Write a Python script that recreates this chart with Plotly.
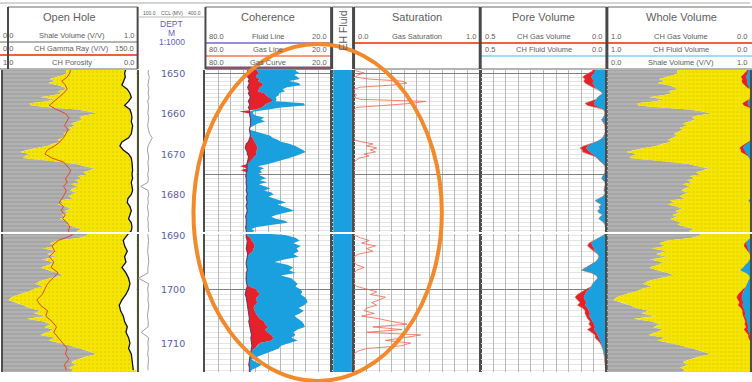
import numpy as np
import plotly.graph_objects as go

W, H = 752, 382


def px(x):
    return x / W


def py(y):
    return 1 - y / H


# ---------------------------------------------------------------- data
DEPTH = [round(1649.0 + 0.5 * i, 1) for i in range(134)]      # 0.5 m samples
DEPTH_1M = list(range(1649, 1716))                               # 1 m samples
TICK_DEPTHS = [1650, 1660, 1670, 1680, 1690, 1700, 1710]

# shale volume (V/V), 0.5 m
VSH = [0.475, 0.475, 0.475, 0.45, 0.40, 0.35, 0.39, 0.34, 0.41, 0.46,
       0.475, 0.41, 0.44, 0.375, 0.28, 0.39, 0.33, 0.20, 0.21, 0.35,
       0.55, 0.65, 0.70, 0.61, 0.57, 0.60, 0.56, 0.51, 0.54, 0.49,
       0.51, 0.475, 0.45, 0.475, 0.44, 0.41, 0.43, 0.375, 0.33, 0.25,
       0.18, 0.13, 0.20, 0.165, 0.15, 0.30, 0.45, 0.55, 0.61, 0.69,
       0.65, 0.60, 0.625, 0.56, 0.59, 0.54, 0.575, 0.51, 0.56, 0.525,
       0.50, 0.55, 0.51, 0.49, 0.525, 0.425, 0.45, 0.41, 0.475, 0.51,
       0.46, 0.49, 0.44, 0.475, 0.425, 0.46, 0.50, 0.475, 0.54, 0.59,
       0.55, 0.60,
       0.64, 0.575, 0.41, 0.35, 0.39, 0.30, 0.41, 0.33,
       0.40, 0.29, 0.375, 0.35, 0.28, 0.34, 0.41, 0.45, 0.35, 0.28,
       0.24, 0.30, 0.23, 0.19, 0.115, 0.065, 0.04, 0.10, 0.15, 0.20,
       0.28, 0.23, 0.33, 0.18, 0.30, 0.36, 0.31, 0.375, 0.33, 0.28,
       0.39, 0.34, 0.425, 0.51, 0.575, 0.64, 0.70, 0.625, 0.56, 0.51,
       0.55, 0.49, 0.525, 0.50]

# CH gamma ray, 1 m
GR = [76, 75, 72, 66, 70, 72, 68, 63, 58, 52,
      60, 70, 74, 71, 69, 73, 70, 68, 64, 58,
      50, 47, 55, 68, 72, 76, 74, 70, 72, 68,
      71, 69, 66, 63, 68, 65, 70, 67, 72, 75,
      73, 78, 62, 55, 58, 52, 57, 54, 62, 56,
      50, 47, 44, 38, 42, 50, 48, 55, 60, 57,
      62, 66, 72, 70, 74, 69, 71]

# CH porosity, 1 m
PHI = [0.08, 0.09, 0.085, 0.10, 0.11, 0.07, 0.05, 0.04, 0.06, 0.09,
       0.05, 0.04, 0.035, 0.04, 0.03, 0.035, 0.04, 0.06, 0.11, 0.125,
       0.10, 0.06, 0.04, 0.035, 0.03, 0.03, 0.035, 0.03, 0.04, 0.035,
       0.03, 0.04, 0.065, 0.07, 0.05, 0.04, 0.05, 0.06, 0.04, 0.035,
       0.04, 0.07, 0.10, 0.09, 0.07, 0.09, 0.08, 0.11, 0.08, 0.06,
       0.05, 0.06, 0.08, 0.11, 0.13, 0.12, 0.10, 0.09, 0.07, 0.08,
       0.06, 0.05, 0.06, 0.04, 0.035, 0.03, 0.025]

# CCL (MV), 1 m
CCL = [152, 150, 155, 151, 149, 153, 150, 154, 148, 152,
       150, 149, 153, 151, 148, 152, 156, 168, 158, 150,
       147, 151, 153, 149, 150, 152, 148, 151, 149, 118,
       150, 153, 149, 151, 147, 150, 152, 148, 151, 150,
       153, 149, 152, 150, 148, 151, 153, 149, 149, 108,
       152, 148, 151, 149, 153, 150, 147, 151, 150, 120,
       152, 149, 151, 148, 152, 150, 149]

# coherence curves (80 .. 20), 0.5 m
COH_CURVE = [60.0, 59.8, 59.5, 60.0, 59.8, 59.0, 59.5, 59.0, 59.3, 59.8,
             59.5, 59.0, 59.5, 59.0, 58.5, 59.0, 59.5, 59.0, 58.8, 59.5,
             59.0, 59.0, 59.0, 58.8, 58.5, 58.5, 58.3, 58.5, 58.5, 58.8,
             59.0, 58.8, 58.5, 58.5, 58.8, 59.0, 59.5, 60.5, 60.8, 61.0,
             60.5, 60.0, 60.0, 59.5, 59.5, 59.8, 60.0, 60.2, 60.0, 60.3,
             60.0, 60.5, 60.5, 60.8, 60.5, 60.5, 60.8, 60.5, 60.3, 60.5,
             60.5, 60.3, 60.0, 60.5, 60.5, 60.3, 60.0, 60.5, 60.5, 60.3,
             60.0, 60.3, 60.5, 60.8, 60.5, 60.5, 60.3, 60.5, 60.8, 60.5,
             60.5, 60.3,
             60.5, 60.5, 60.0, 60.0, 60.3, 60.5, 60.0, 59.8,
             60.0, 60.3, 60.5, 60.5, 60.3, 60.0, 60.5, 60.5, 60.8, 60.5,
             60.3, 60.0, 60.5, 60.8, 61.0, 60.5, 60.3, 60.0, 60.0, 59.8,
             59.5, 59.5, 59.0, 59.0, 59.3, 59.0, 58.8, 58.5, 58.3, 58.0,
             58.3, 58.0, 58.0, 57.8, 58.0, 58.3, 58.5, 58.8, 59.0, 59.0,
             59.3, 59.0, 59.0, 59.0]
COH_GAS = [56.0, 55.1, 54.5, 55.5, 56.0, 54.0, 55.0, 53.0, 52.5, 54.0,
           54.5, 55.0, 52.0, 51.0, 50.0, 48.5, 48.0, 50.5, 52.0, 53.0,
           56.0, 64.0, 59.0, 58.8, 58.5, 58.5, 58.3, 58.5, 58.5, 58.8,
           59.0, 58.8, 58.5, 58.5, 57.5, 57.0, 56.5, 56.0, 55.5, 55.0,
           55.5, 56.0, 55.5, 56.5, 57.0, 58.0, 59.0, 60.2, 63.5, 60.3,
           63.0, 60.5, 60.5, 60.8, 60.5, 60.5, 60.8, 60.5, 60.3, 60.5,
           60.5, 60.3, 60.0, 60.5, 60.5, 60.3, 60.0, 60.5, 60.5, 60.3,
           60.0, 60.3, 60.5, 60.8, 60.5, 60.5, 60.3, 60.5, 60.8, 60.5,
           60.5, 60.3,
           60.5, 58.5, 58.0, 57.0, 56.5, 57.0, 57.5, 59.0,
           60.0, 60.3, 60.5, 60.5, 60.3, 60.0, 60.5, 60.5, 60.8, 60.5,
           60.3, 59.0, 56.0, 55.0, 54.0, 55.5, 56.0, 55.0, 56.5, 57.0,
           56.5, 56.0, 55.0, 54.0, 52.0, 51.5, 50.0, 51.5, 50.5, 48.5,
           47.5, 48.5, 54.0, 55.0, 56.5, 58.3, 58.5, 58.8, 59.0, 59.0,
           59.3, 59.0, 59.0, 59.0]
COH_FLUID = [37.0, 36.8, 35.2, 37.6, 36.0, 35.0, 40.0, 35.5, 34.5, 41.0,
             43.2, 42.0, 44.8, 45.0, 46.5, 46.0, 46.4, 33.0, 32.5, 44.0,
             50.0, 57.0, 57.5, 56.0, 52.0, 53.5, 51.5, 55.0, 57.0, 58.8,
             59.0, 56.0, 52.0, 49.0, 48.0, 45.5, 44.0, 40.0, 37.0, 35.0,
             33.5, 32.1, 34.0, 37.0, 40.0, 44.0, 46.4, 50.0, 55.0, 52.0,
             54.0, 53.0, 55.0, 53.0, 51.0, 54.0, 50.5, 54.5, 51.5, 49.0,
             52.0, 48.5, 47.5, 50.0, 46.5, 44.5, 41.5, 45.5, 43.0, 40.0,
             37.5, 42.0, 46.0, 48.5, 46.5, 42.0, 40.8, 48.0, 55.5, 58.0,
             56.5, 58.5,
             42.0, 37.0, 35.0, 38.0, 34.5, 36.5, 35.5, 38.0,
             35.5, 42.4, 47.0, 41.0, 38.0, 40.0, 37.0, 44.0, 39.0, 37.5,
             36.0, 37.0, 35.0, 33.7, 34.5, 32.5, 31.5, 31.3, 33.0, 35.5,
             33.0, 35.0, 37.5, 36.0, 34.0, 33.0, 32.5, 36.0, 38.0, 37.0,
             39.0, 36.0, 40.0, 44.0, 45.0, 48.0, 51.5, 55.0, 58.0, 56.0,
             53.0, 55.5, 58.0, 58.5]

# EH fluid flag (fluid present over the whole interval)
EH_FLUID = [1] * len(DEPTH)

# gas saturation, 0.5 m
SAT = [0.0, 0.02, 0.08, 0.03, 0.01, 0.12, 0.38, 0.42, 0.30, 0.05,
       0.0, 0.0, 0.0, 0.02, 0.0, 0.05, 0.57, 0.46, 0.20, 0.02,
       0.0, 0.0, 0.0, 0.0, 0.0, 0.0, 0.0, 0.0, 0.0, 0.0,
       0.0, 0.0, 0.0, 0.0, 0.0, 0.0, 0.06, 0.15, 0.10, 0.18,
       0.13, 0.17, 0.08, 0.12, 0.04, 0.02, 0.0, 0.0, 0.0, 0.0,
       0.0, 0.0, 0.0, 0.0, 0.0, 0.0, 0.0, 0.0, 0.0, 0.0,
       0.0, 0.0, 0.0, 0.0, 0.0, 0.0, 0.0, 0.0, 0.0, 0.0,
       0.0, 0.0, 0.0, 0.0, 0.0, 0.0, 0.0, 0.0, 0.0, 0.0,
       0.0, 0.0,
       0.0, 0.05, 0.12, 0.06, 0.17, 0.10, 0.15, 0.04,
       0.0, 0.0, 0.0, 0.02, 0.08, 0.02, 0.0, 0.0, 0.0, 0.0,
       0.0, 0.02, 0.10, 0.18, 0.13, 0.25, 0.20, 0.14, 0.18, 0.10,
       0.08, 0.16, 0.06, 0.20, 0.30, 0.42, 0.15, 0.38, 0.10, 0.53,
       0.40, 0.25, 0.45, 0.38, 0.10, 0.03, 0.0, 0.0, 0.0, 0.0,
       0.0, 0.0, 0.0, 0.0]

# CH fluid / gas volume, 0.5 m
PORE_FLUID = [0.045, 0.045, 0.05, 0.055, 0.06, 0.055, 0.05, 0.055, 0.05, 0.045,
              0.035, 0.025, 0.015, 0.025, 0.035, 0.04, 0.045, 0.05, 0.045, 0.03,
              0.012, 0.008, 0.006, 0.008, 0.012, 0.02, 0.015, 0.008, 0.005, 0.006,
              0.004, 0.005, 0.006, 0.01, 0.015, 0.025, 0.04, 0.06, 0.075, 0.08,
              0.075, 0.065, 0.055, 0.045, 0.035, 0.03, 0.02, 0.012, 0.006, 0.005,
              0.004, 0.006, 0.01, 0.015, 0.02, 0.012, 0.006, 0.005, 0.006, 0.008,
              0.01, 0.006, 0.008, 0.015, 0.03, 0.045, 0.035, 0.02, 0.03, 0.025,
              0.035, 0.03, 0.015, 0.025, 0.03, 0.02, 0.01, 0.006, 0.004, 0.003,
              0.004, 0.005,
              0.01, 0.03, 0.05, 0.06, 0.055, 0.05, 0.045, 0.035,
              0.03, 0.035, 0.045, 0.06, 0.08, 0.10, 0.06, 0.04, 0.035, 0.045,
              0.055, 0.06, 0.07, 0.08, 0.085, 0.09, 0.085, 0.08, 0.085, 0.075,
              0.07, 0.065, 0.07, 0.06, 0.055, 0.05, 0.045, 0.05, 0.04, 0.035,
              0.03, 0.025, 0.02, 0.02, 0.015, 0.012, 0.01, 0.008, 0.006, 0.005,
              0.004, 0.004, 0.003, 0.003]
PORE_GAS = [0.01, 0.01, 0.02, 0.03, 0.035, 0.03, 0.04, 0.03, 0.02, 0.01,
            0.0, 0.0, 0.0, 0.0, 0.0, 0.0, 0.02, 0.035, 0.03, 0.01,
            0.0, 0.0, 0.0, 0.0, 0.0, 0.0, 0.0, 0.0, 0.0, 0.0,
            0.0, 0.0, 0.0, 0.0, 0.0, 0.0, 0.0, 0.005, 0.015, 0.025,
            0.02, 0.03, 0.015, 0.005, 0.0, 0.0, 0.0, 0.0, 0.0, 0.0,
            0.0, 0.0, 0.0, 0.0, 0.0, 0.0, 0.0, 0.0, 0.0, 0.0,
            0.0, 0.0, 0.0, 0.0, 0.0, 0.0, 0.0, 0.0, 0.0, 0.0,
            0.0, 0.0, 0.0, 0.0, 0.0, 0.0, 0.0, 0.0, 0.0, 0.0,
            0.0, 0.0,
            0.0, 0.0, 0.0, 0.01, 0.02, 0.015, 0.005, 0.0,
            0.0, 0.0, 0.0, 0.0, 0.0, 0.0, 0.0, 0.0, 0.0, 0.0,
            0.0, 0.0, 0.01, 0.02, 0.03, 0.035, 0.03, 0.025, 0.03, 0.02,
            0.015, 0.02, 0.01, 0.015, 0.01, 0.02, 0.015, 0.025, 0.02, 0.01,
            0.015, 0.008, 0.005, 0.0, 0.0, 0.0, 0.0, 0.0, 0.0, 0.0,
            0.0, 0.0, 0.0, 0.0]

# ---------------------------------------------------------------- styling
C_GREY = "#a6a6a6"
C_YEL = "#f6e500"
C_BLUE = "#1a9fdf"
C_RED = "#e5222a"
C_PURPLE = "#74385f"
C_ORANGE_LINE = "#f0603c"
C_LBLUE_LINE = "#a4daf2"
C_TXT = "#5e5e5e"
FONT = "Liberation Sans, Arial, sans-serif"

GREY_PAT = dict(shape="-", bgcolor=C_GREY, fgcolor="#c9c9c9", size=4, solidity=0.35)
YEL_PAT = dict(shape=".", bgcolor=C_YEL, fgcolor="#d2c200", size=4, solidity=0.2)

ROW1_PX = (70, 232)
ROW2_PX = (234, 372)
ROW1_RANGE = [1649.26 + (ROW1_PX[1] - ROW1_PX[0]) / 4.05, 1649.26]
ROW2_RANGE = [1689.8 + (ROW2_PX[1] - ROW2_PX[0]) / 5.4, 1689.8]

fig = go.Figure()

ROWS = ("y", "y2")
DROWS = ("y3", "y4")
N = len(DEPTH)
N1 = len(DEPTH_1M)


def band(xaxis, left, right, depth, color, pattern=None, rows=ROWS):
    n = min(len(left), len(right), len(depth))
    left, right, depth = list(left[:n]), list(right[:n]), list(depth[:n])
    xs = left + right[::-1]
    ys = depth + depth[::-1]
    for ya in rows:
        kw = dict(x=xs, y=ys, xaxis=xaxis, yaxis=ya, mode="lines",
                  line=dict(width=0, color=color), fill="toself", fillcolor=color,
                  hoverinfo="skip", showlegend=False)
        if pattern:
            kw["fillpattern"] = pattern
        fig.add_trace(go.Scatter(**kw))


def curve(xaxis, xs, depth, color, width, rows=ROWS):
    n = min(len(xs), len(depth))
    for ya in rows:
        fig.add_trace(go.Scatter(x=list(xs[:n]), y=list(depth[:n]), xaxis=xaxis, yaxis=ya,
                                 mode="lines", line=dict(color=color, width=width),
                                 hoverinfo="skip", showlegend=False))


zeros = [0] * N
ones = [1] * N

# Open Hole track
band("x", zeros, VSH, DEPTH, C_GREY, GREY_PAT)
band("x", VSH, ones, DEPTH, C_YEL, YEL_PAT)
curve("x2", GR, DEPTH_1M, "#e2452a", 1)
band("x3", PHI, [0] * N1, DEPTH_1M, "white")
curve("x3", PHI, DEPTH_1M, "#111111", 1.3)

# depth track
curve("x4", CCL, DEPTH_1M, "#a0a0a0", 1, rows=DROWS)

# coherence track
coh_c = np.array(COH_CURVE, dtype=float)
coh_g = np.array(COH_GAS, dtype=float)
coh_f = np.array(COH_FLUID, dtype=float)
red_right = np.minimum(coh_c, coh_g)
blue_right = np.minimum(coh_f, red_right)
band("x5", red_right, blue_right, DEPTH, C_BLUE)
band("x5", coh_c, coh_g, DEPTH, C_RED)
curve("x5", COH_CURVE, DEPTH, C_PURPLE, 1.2)

# EH fluid
band("x6", zeros, EH_FLUID, DEPTH, C_BLUE)

# saturation
curve("x7", SAT, DEPTH, "#f2634a", 0.8)

# pore volume
pf = np.array(PORE_FLUID, dtype=float)
pg = np.array(PORE_GAS, dtype=float)
ptot = pf + pg
band("x8", zeros, pf, DEPTH, C_BLUE)
band("x8", pf, ptot, DEPTH, C_RED)
curve("x8", ptot, DEPTH, "#c9785a", 0.6)

# whole volume
band("x9", zeros, VSH, DEPTH, C_GREY, GREY_PAT)
band("x9", VSH, ones, DEPTH, C_YEL, YEL_PAT)
band("x10", zeros, pf, DEPTH, C_BLUE)
band("x10", pf, ptot, DEPTH, C_RED)


# ---------------------------------------------------------------- axes
def xcfg(x0, x1, rng, **kw):
    cfg = dict(domain=[px(x0), px(x1)], range=rng, showticklabels=False, ticks="",
               showline=False, zeroline=False, showgrid=False, fixedrange=True, anchor="y")
    cfg.update(kw)
    return cfg


GRID_V = "#b8b8b8"
WV_FRAC = (752 - 609) / 148
layout = dict(
    xaxis=xcfg(3, 137, [0, 1]),
    xaxis2=xcfg(3, 137, [0, 150], overlaying="x"),
    xaxis3=xcfg(3, 137, [1, 0], overlaying="x"),
    xaxis4=xcfg(137, 206, [100, 400], anchor="y3"),
    xaxis5=xcfg(206, 332, [80, 20], showgrid=True, dtick=6, tick0=20, gridcolor=GRID_V, gridwidth=1),
    xaxis6=xcfg(333, 354, [-0.06, 1.06]),
    xaxis7=xcfg(355, 481, [0, 1], showgrid=True, dtick=0.1, tick0=0, gridcolor=GRID_V, gridwidth=1),
    xaxis8=xcfg(482, 608, [0.5, 0], showgrid=True, dtick=0.05, tick0=0, gridcolor=GRID_V, gridwidth=1),
    xaxis9=xcfg(609, 752, [0, WV_FRAC]),
    xaxis10=xcfg(609, 752, [1, 1 - WV_FRAC], overlaying="x9"),
)


def ycfg(rowpx, rng, grid=True, line=True, anchor="x"):
    cfg = dict(domain=[py(rowpx[1]), py(rowpx[0])], range=rng, showticklabels=False, ticks="",
               zeroline=False, fixedrange=True, anchor=anchor)
    if grid:
        cfg.update(showgrid=True, tick0=1650, dtick=25, gridcolor="#808080", gridwidth=1,
                   minor=dict(tick0=1650, dtick=1, showgrid=True, gridcolor="#e4e4e4", gridwidth=1))
    else:
        cfg.update(showgrid=False)
    if line:
        cfg.update(showline=True, mirror="all", linecolor="#4d4d4d", linewidth=1.5)
    else:
        cfg.update(showline=False)
    return cfg


layout["yaxis"] = ycfg(ROW1_PX, ROW1_RANGE)
layout["yaxis2"] = ycfg(ROW2_PX, ROW2_RANGE)
layout["yaxis3"] = ycfg(ROW1_PX, ROW1_RANGE, grid=False, line=False, anchor="x4")
layout["yaxis4"] = ycfg(ROW2_PX, ROW2_RANGE, grid=False, line=False, anchor="x4")

# ---------------------------------------------------------------- header
shapes = []
annots = []


def hline(x0, x1, y, color, w):
    shapes.append(dict(type="line", xref="paper", yref="paper", x0=px(x0), x1=px(x1),
                       y0=py(y), y1=py(y), line=dict(color=color, width=w)))


def vline(x, y0, y1, color, w):
    shapes.append(dict(type="line", xref="paper", yref="paper", x0=px(x), x1=px(x),
                       y0=py(y0), y1=py(y1), line=dict(color=color, width=w)))


def text(x, y, s, size, color=C_TXT, anchor="center", angle=0):
    annots.append(dict(x=px(x), y=py(y), xref="paper", yref="paper", text=s, showarrow=False,
                       font=dict(size=size, color=color, family=FONT), xanchor=anchor,
                       yanchor="middle", textangle=angle))


hline(0, 752, 3, "#d4d4d4", 2)

TRACK_HEADERS = [
    # x0, x1, title, rows (left, name, right, y, line_y, line_color)
    (8, 138, "Open Hole", [("0.0", "Shale Volume (V/V)", "1.0", 35, 42, "#b3b3b3"),
                           ("0.0", "CH Gamma Ray (V/V)", "150.0", 48, 55, C_ORANGE_LINE),
                           ("1.0", "CH Porosity", "0.0", 62, None, None)]),
    (206, 332, "Coherence", [("80.0", "Fluid Line", "20.0", 37, 43, "#978fd4"),
                             ("80.0", "Gas Line", "20.0", 50, 56, "#f39c80"),
                             ("80.0", "Gas Curve", "20.0", 63, 68, "#86506e")]),
    (355, 481, "Saturation", [("0.0", "Gas Saturation", "1.0", 37, 43, C_ORANGE_LINE)]),
    (482, 608, "Pore Volume", [("0.5", "CH Gas Volume", "0.0", 37, 43, C_ORANGE_LINE),
                               ("0.5", "CH Fluid Volume", "0.0", 50, 56, C_LBLUE_LINE)]),
    (609, 758, "Whole Volume", [("1.0", "CH Gas Volume", "0.0", 37, 43, C_ORANGE_LINE),
                                ("1.0", "CH Fluid Volume", "0.0", 50, 56, C_LBLUE_LINE),
                                ("0.0", "Shale Volume (V/V)", "1.0", 62, None, None)]),
]

for x0, x1, title, rows in TRACK_HEADERS:
    lx0 = 0 if x0 == 8 else x0
    for lab_l, name, lab_r, ty, ly, lc in rows:
        if ly is not None:
            hline(lx0, x1, ly, lc, 2.2 if lc != "#86506e" else 3)
    hline(x0, x1, 7, "#6a6a6a", 1)
    hline(lx0, x1, 69, "#6a6a6a", 1)
    vline(x0, 7, 69, "#4a4a4a", 2)
    vline(x1, 7, 69, "#4a4a4a", 2)
    cx = (x0 + x1) / 2 if x1 < 700 else 683
    text(cx if x0 != 8 else 70, 17, title, 11)
    rx = min(x1 - 2, 751)
    for lab_l, name, lab_r, ty, ly, lc in rows:
        text((1 if x0 == 8 else x0 + 2), ty, lab_l, 7.5, anchor="left")
        text(cx if x0 != 8 else 72, ty, name, 7.5)
        text(rx, ty, lab_r, 7.5, anchor="right")

# EH fluid header
vline(333, 7, 69, "#4a4a4a", 2)
vline(354, 7, 69, "#4a4a4a", 2)
hline(333, 354, 7, "#6a6a6a", 1)
text(343.5, 31, "EH Fluid", 10.5, angle=-90)

# depth header
DEPTH_COL = "#6262b4"
text(141, 13, "100.0", 5, anchor="left")
text(172, 13, "CCL (MV)", 5)
text(204, 13, "400.0", 5, anchor="right")
hline(139, 205, 17, "#b8b8b8", 1)
text(172, 24, "DEPT", 8.5, DEPTH_COL)
text(172, 33, "M", 8.5, DEPTH_COL)
text(172, 42, "1:1000", 8.5, DEPTH_COL)

# depth labels
for dv in TICK_DEPTHS:
    annots.append(dict(x=px(173), y=dv, xref="paper", yref="y3" if dv < 1689.8 else "y4",
                       text=str(dv), showarrow=False,
                       font=dict(size=9.5, color="#5c5caa", family="DejaVu Sans, sans-serif"),
                       xanchor="center", yanchor="middle"))

# hand-drawn orange ellipse
shapes.append(dict(type="circle", xref="paper", yref="paper", x0=px(194), x1=px(443),
                   y0=py(381), y1=py(44), line=dict(color="#f28a2c", width=4), layer="above"))

fig.update_layout(**layout)
fig.update_layout(width=W, height=H, margin=dict(l=0, r=0, t=0, b=0),
                  paper_bgcolor="white", plot_bgcolor="rgba(0,0,0,0)", showlegend=False,
                  shapes=shapes, annotations=annots, hovermode=False)

fig.write_html("out.html", config={"displayModeBar": False},
               post_script="document.body.style.margin='0';document.body.style.overflow='hidden';")
